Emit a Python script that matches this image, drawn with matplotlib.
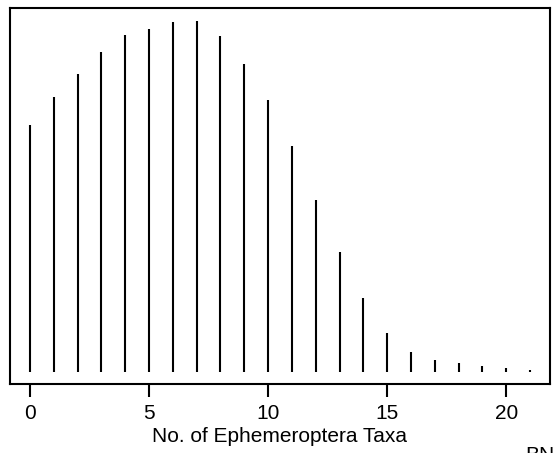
import numpy as np
from matplotlib import pyplot as plt

plt.rcParams['font.family'] = ['Liberation Sans', 'DejaVu Sans']

taxa = list(range(22))
counts = [247, 275, 298, 320, 337, 343, 350, 351, 336, 308, 272, 226,
          172, 120, 74, 39, 20, 12, 9, 6, 4, 2]
xticks = [0, 5, 10, 15, 20]

fig = plt.figure(figsize=(5.59, 4.53), dpi=100)
ax = fig.add_axes([10/559, 69/453, 540/559, 376/453])

# histogram-like spikes
ax.vlines(taxa, 0, counts, color='black', linewidth=1.5)

ax.set_xlim(-0.84, 21.84)
ax.set_ylim(-12, 364)
ax.set_yticks([])
ax.set_xticks(xticks)
ax.tick_params(axis='x', length=9.5, width=1.5, pad=5, labelsize=15)
for s in ax.spines.values():
    s.set_linewidth(1.5)
ax.set_xlabel('No. of Ephemeroptera Taxa', fontsize=15, labelpad=3)

fig.text(525/559, 1 - 446/453, 'BN', fontsize=15, ha='left', va='top')

plt.savefig('out.png', dpi=100)
